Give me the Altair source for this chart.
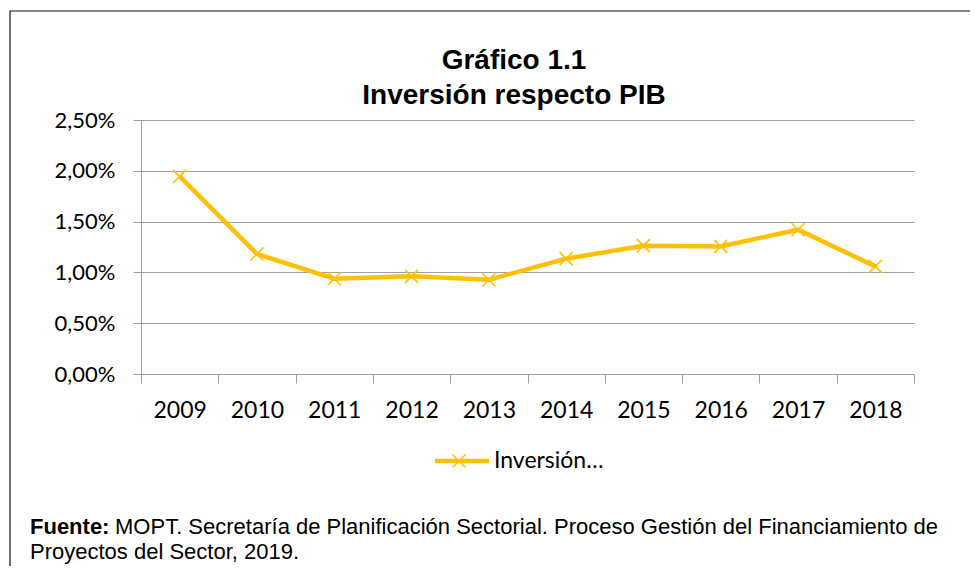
import altair as alt
import pandas as pd

years = ["2009", "2010", "2011", "2012", "2013", "2014", "2015", "2016", "2017", "2018"]
values = [1.945, 1.181, 0.938, 0.961, 0.928, 1.135, 1.263, 1.256, 1.420, 1.059]  # percent
y_ticks = [0, 0.005, 0.01, 0.015, 0.02, 0.025]
title_lines = ["Gráfico 1.1", "Inversión respecto PIB"]
legend_label = "Inversión…"
source_bold = "Fuente:"
source_line1 = "MOPT. Secretaría de Planificación Sectorial. Proceso Gestión del Financiamiento de"
source_line2 = "Proyectos del Sector, 2019."

GOLD = "#FFC000"
GREY = "#A0A0A0"
XSHAPE = "M-1,-1L1,1M1,-1L-1,1"

df = pd.DataFrame({"year": years, "value": [v / 100 for v in values]})
one = pd.DataFrame({"k": [0]})

base = alt.Chart(df).encode(
    x=alt.X(
        "year:N",
        sort=years,
        scale=alt.Scale(type="band", paddingInner=0, paddingOuter=0),
        axis=alt.Axis(
            title=None, labelAngle=0, tickBand="extent", tickSize=9, tickColor=GREY,
            domainColor=GREY, labelFont="Lato", labelFontSize=23, labelColor="#000",
            labelBaseline="alphabetic", labelPadding=34, grid=False,
        ),
    ),
    y=alt.Y(
        "value:Q",
        scale=alt.Scale(domain=[0, 0.025]),
        axis=alt.Axis(
            title=None, values=y_ticks,
            labelExpr="replace(format(datum.value, '.2%'), '.', ',')",
            tickSize=8, tickColor=GREY, domainColor=GREY, grid=True, gridColor=GREY,
            labelFont="Lato", labelFontSize=22, labelColor="#000", labelPadding=18,
        ),
    ),
)

line = base.mark_line(color=GOLD, strokeWidth=4.5)
pts = base.mark_point(shape=XSHAPE, size=169, filled=False, color=GOLD, strokeWidth=1.6, opacity=1)

frame = alt.Chart(one).mark_rect(fillOpacity=0, stroke="#111", strokeWidth=1.2).encode(
    x=alt.value(-131), x2=alt.value(860), y=alt.value(-109), y2=alt.value(470)
)

t1 = alt.Chart(one).mark_text(
    text=title_lines[0], font="Liberation Sans", fontSize=28, fontWeight="bold",
    align="center", baseline="alphabetic", color="#000"
).encode(x=alt.value(373), y=alt.value(-51))
t2 = alt.Chart(one).mark_text(
    text=title_lines[1], font="Liberation Sans", fontSize=28, fontWeight="bold",
    align="center", baseline="alphabetic", color="#000"
).encode(x=alt.value(373), y=alt.value(-16))

leg_line = alt.Chart(one).mark_rule(color=GOLD, strokeWidth=4.5).encode(
    x=alt.value(294), x2=alt.value(348), y=alt.value(341)
)
leg_pt = alt.Chart(one).mark_point(shape=XSHAPE, size=169, filled=False, color=GOLD, strokeWidth=1.6, opacity=1).encode(
    x=alt.value(318), y=alt.value(341)
)
leg_txt = alt.Chart(one).mark_text(
    text=legend_label, font="Lato", fontSize=23, align="left", baseline="alphabetic", color="#000"
).encode(x=alt.value(353), y=alt.value(348))

f_bold = alt.Chart(one).mark_text(
    text=source_bold, font="Liberation Sans", fontSize=22, fontWeight="bold",
    align="left", baseline="alphabetic", color="#000"
).encode(x=alt.value(-111), y=alt.value(414))
f_l1 = alt.Chart(one).mark_text(
    text=source_line1, font="Liberation Sans", fontSize=22,
    align="right", baseline="alphabetic", color="#000"
).encode(x=alt.value(797), y=alt.value(414))
f_l2 = alt.Chart(one).mark_text(
    text=source_line2, font="Liberation Sans", fontSize=22,
    align="left", baseline="alphabetic", color="#000"
).encode(x=alt.value(-111), y=alt.value(439))

chart = alt.layer(
    frame, line, pts, t1, t2, leg_line, leg_pt, leg_txt, f_bold, f_l1, f_l2
).properties(
    width=773, height=254, autosize="none",
    padding={"left": 133, "top": 112, "right": 56, "bottom": 192},
).configure_view(stroke=None)

chart.save("out.html", embed_options={"renderer": "svg", "actions": False})
